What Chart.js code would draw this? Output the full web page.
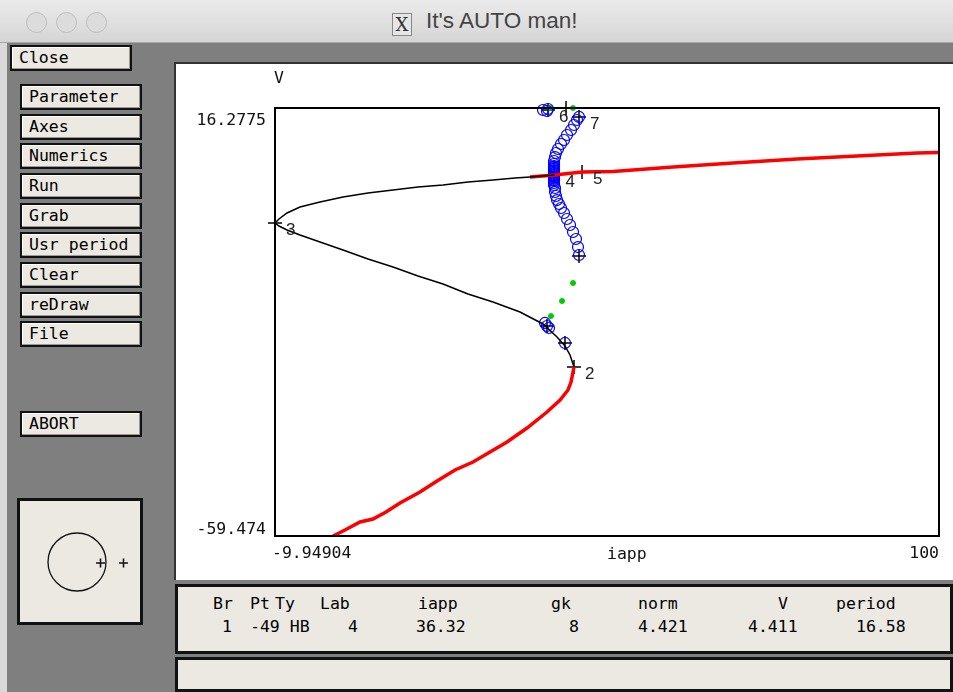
<!DOCTYPE html>
<html>
<head>
<meta charset="utf-8">
<script src="https://cdn.jsdelivr.net/npm/chart.js@4.4.1/dist/chart.umd.min.js"></script>
<style>
  html, body { margin:0; padding:0; }
  body { width:953px; height:692px; position:relative; overflow:hidden; background:#7f7f7f; font-family:"DejaVu Sans Mono", monospace; }
  .titlebar { position:absolute; left:0; top:0; width:953px; height:42px; background:linear-gradient(#ebebeb,#d5d5d5); border-bottom:1px solid #a8a8a8; }
  .light { position:absolute; top:12px; width:19px; height:19px; border-radius:50%; background:#dcdcdc; border:1px solid #bdbdbd; }
  .ttl { position:absolute; top:8px; left:392px; font-family:"Liberation Sans", Arial, sans-serif; font-size:22.5px; color:#444; }
  .xicon { display:inline-block; width:18px; height:21px; border:1px solid #888; background:#e6e6e6; text-align:center; font-size:18px; line-height:21px; margin-right:14px; vertical-align:-3px; font-family:"DejaVu Serif", serif; color:#333; }
  .edge { position:absolute; left:0; top:43px; width:7px; height:649px; background:#d9d9d9; }
  .btn { position:absolute; height:22px; background:#ece9e3; border:2px solid #111; box-shadow: inset -1px -1px 0 #9a9a9a, inset 1px 1px 0 #fff; font-size:16.5px; line-height:22px; padding-left:7px; box-sizing:content-box; color:#000; }
  .panel { position:absolute; background:#ece9e3; border:3px solid #111; box-sizing:border-box; }
  .plotpanel { position:absolute; left:174px; top:62px; width:779px; height:518px; background:#fff; border-left:2px solid #333; border-top:2px solid #333; box-sizing:border-box; }
  #wrap { position:absolute; left:175px; top:63px; width:778px; height:517px; }
  .info { position:absolute; font-size:16.5px; white-space:pre; color:#000; }
</style>
</head>
<body>
<div class="titlebar">
  <div class="light" style="left:26px"></div>
  <div class="light" style="left:56px"></div>
  <div class="light" style="left:86px"></div>
  <div class="ttl"><span class="xicon">X</span>It's AUTO man!</div>
</div>
<div class="edge"></div>

<div class="btn" style="left:10px;top:45px;width:111px;">Close</div>
<div class="btn" style="left:20px;top:84px;width:111px;">Parameter</div>
<div class="btn" style="left:20px;top:114px;width:111px;">Axes</div>
<div class="btn" style="left:20px;top:143px;width:111px;">Numerics</div>
<div class="btn" style="left:20px;top:173px;width:111px;">Run</div>
<div class="btn" style="left:20px;top:203px;width:111px;">Grab</div>
<div class="btn" style="left:20px;top:232px;width:111px;">Usr period</div>
<div class="btn" style="left:20px;top:262px;width:111px;">Clear</div>
<div class="btn" style="left:20px;top:292px;width:111px;">reDraw</div>
<div class="btn" style="left:20px;top:321px;width:111px;">File</div>
<div class="btn" style="left:20px;top:411px;width:111px;">ABORT</div>

<div class="panel" style="left:17px;top:498px;width:126px;height:127px;">
  <svg width="120" height="121" style="position:absolute;left:0;top:0">
    <circle cx="57" cy="61" r="29" fill="none" stroke="#111" stroke-width="1.3"/>
    <path d="M76 62 h9 M80.5 57.5 v9 M99 62 h9 M103.5 57.5 v9" stroke="#111" stroke-width="1.6"/>
  </svg>
</div>

<div class="plotpanel"></div>
<div id="wrap"><canvas id="c" width="778" height="517"></canvas></div>

<div class="panel" style="left:175px;top:584px;width:778px;height:70px;"></div>
<div class="info" style="left:213px;top:594px;">Br</div>
<div class="info" style="left:250px;top:594px;">Pt</div>
<div class="info" style="left:275px;top:594px;">Ty</div>
<div class="info" style="left:320px;top:594px;">Lab</div>
<div class="info" style="left:418px;top:594px;">iapp</div>
<div class="info" style="left:551px;top:594px;">gk</div>
<div class="info" style="left:638px;top:594px;">norm</div>
<div class="info" style="left:778px;top:594px;">V</div>
<div class="info" style="left:836px;top:594px;">period</div>
<div class="info" style="left:222px;top:617px;">1</div>
<div class="info" style="left:250px;top:617px;">-49 HB</div>
<div class="info" style="left:348px;top:617px;">4</div>
<div class="info" style="left:416px;top:617px;">36.32</div>
<div class="info" style="left:569px;top:617px;">8</div>
<div class="info" style="left:638px;top:617px;">4.421</div>
<div class="info" style="left:748px;top:617px;">4.411</div>
<div class="info" style="left:856px;top:617px;">16.58</div>

<div class="panel" style="left:175px;top:657px;width:778px;height:35px;"></div>

<script>
// ---- axis ranges / tick labels ----
const xTickValues = [-9.94904, 100];
const xTickLabels = ['-9.94904', '100'];
const yTickValues = [-59.474, 16.2775];
const yTickLabels = ['-59.474', '16.2775'];
const xAxisTitle = 'iapp';
const yAxisTitle = 'V';

// ---- stable steady states (lower branch, red) ----
const stableLowIapp = [-0.345, 1.642, 4.126, 6.279, 8.432, 10.75, 14.06, 16.88, 19.86, 22.84, 25.65, 28.47, 31.78, 35.09, 37.25, 38.57, 39.07, 39.56];
const stableLowV    = [-59.47, -58.41, -56.99, -56.47, -55.23, -53.63, -51.69, -49.74, -47.79, -46.38, -44.61, -42.84, -40.36, -37.53, -35.40, -33.63, -32.22, -29.56];

// ---- unstable steady states (black) ----
const unstableIapp = [39.56, 38.90, 38.07, 36.75, 34.43, 30.62, 26.15, 22.01, 17.87, 13.73, 9.59, 5.45, 1.31, -2.50, -5.81, -7.96, -9.29, -9.949, -9.29, -7.96, -5.81, -2.50, 1.31, 5.45, 9.59, 13.73, 17.87, 22.01, 26.15, 29.79, 32.28, 36.32];
const unstableV    = [-29.56, -27.44, -25.84, -24.25, -21.95, -19.83, -18.06, -16.64, -14.87, -13.46, -11.86, -10.45, -8.85, -7.44, -6.20, -5.32, -4.61, -4.08, -3.37, -2.31, -1.24, -0.36, 0.525, 1.23, 1.76, 2.29, 2.65, 3.18, 3.53, 3.89, 4.06, 4.411];

// ---- stable steady states (upper branch, red) ----
const stableHighIapp = [32.28, 36.32, 40.89, 46.02, 55.96, 65.89, 76.49, 86.42, 96.36, 100];
const stableHighV    = [4.06, 4.411, 4.95, 5.05, 5.835, 6.54, 7.25, 7.78, 8.31, 8.40];

// ---- unstable periodic orbits (blue open circles): max and min of V ----
const upoMaxIapp = [36.25, 36.25, 36.25, 36.25, 36.25, 36.25, 36.25, 36.25, 36.25, 36.25, 36.25, 36.42, 36.58, 36.91, 37.41, 37.91, 38.40, 39.07, 39.56, 40.06, 40.39, 34.43, 35.09, 35.26];
const upoMaxV    = [4.60, 4.80, 4.95, 5.15, 5.30, 5.50, 5.66, 5.85, 6.01, 6.37, 6.90, 7.60, 8.31, 9.02, 9.91, 10.61, 11.50, 12.38, 13.27, 14.15, 14.69, 15.92, 15.75, 16.10];
const upoMinIapp = [36.25, 36.25, 36.25, 36.25, 36.25, 36.25, 36.25, 36.25, 36.25, 36.42, 36.42, 36.58, 36.75, 37.08, 37.41, 37.91, 38.40, 38.90, 39.40, 39.89, 40.22, 40.39, 34.76, 35.09, 35.42, 38.07];
const upoMinV    = [4.40, 4.20, 4.07, 3.90, 3.71, 3.50, 3.36, 3.00, 2.65, 2.12, 1.41, 0.70, -0.01, -0.71, -1.42, -2.31, -3.37, -4.43, -5.67, -6.91, -8.33, -9.74, -21.77, -22.31, -22.66, -25.31];

// ---- stable periodic orbits (green dots): max and min of V ----
const spoIapp = [35.59, 39.40, 39.40, 37.58, 35.75];
const spoV    = [16.28, 16.28, -14.70, -17.88, -20.54];

// ---- labelled special points ----
const specIapp  = [39.56, -9.949, 36.32, 40.89, 40.39, 35.26, 35.09, 38.24, 38.07, 40.39];
const specV     = [-29.56, -4.08, 4.411, 4.95, 14.69, 15.92, -22.31, 16.28, -25.31, -9.92];
const specLabel = ['2', '3', '4', '5', '7', '6', '', '', '', ''];

const pts = (xs, ys) => xs.map((x, i) => ({ x: x, y: ys[i] }));

const frame = {
  id: 'autoFrame',
  afterDraw(chart) {
    const { ctx, chartArea: a, scales } = chart;
    const xs = scales.x, ys = scales.y;
    ctx.save();
    ctx.strokeStyle = '#000';
    ctx.lineWidth = 2;
    ctx.strokeRect(a.left, a.top, a.right - a.left, a.bottom - a.top);
    ctx.fillStyle = '#111';
    ctx.font = '16.5px "DejaVu Sans Mono", monospace';
    ctx.textAlign = 'right';
    ctx.textBaseline = 'middle';
    yTickValues.forEach((v, i) => {
      const p = ys.getPixelForValue(v);
      const dy = (v === ys.max) ? 13 : -6;
      ctx.fillText(yTickLabels[i], a.left - 9, p + dy);
    });
    xTickValues.forEach((v, i) => {
      const p = xs.getPixelForValue(v);
      ctx.textAlign = (v === xs.min) ? 'left' : 'right';
      ctx.fillText(xTickLabels[i], p + ((v === xs.min) ? -3 : 0), a.bottom + 18);
    });
    ctx.textAlign = 'left';
    ctx.fillText(xAxisTitle, (a.left + a.right) / 2, a.bottom + 19);
    ctx.fillText(yAxisTitle, a.left - 1, a.top - 29);
    ctx.font = '17px "Liberation Sans", Arial, sans-serif';
    ctx.fillStyle = '#222';
    specLabel.forEach((t, i) => {
      if (!t) return;
      ctx.fillText(t, xs.getPixelForValue(specIapp[i]) + 11, ys.getPixelForValue(specV[i]) + 7);
    });
    ctx.restore();
  }
};

new Chart(document.getElementById('c'), {
  type: 'scatter',
  data: {
    datasets: [
      { data: pts(stableLowIapp, stableLowV), showLine: true, borderColor: '#ff0000', borderWidth: 3.5, pointRadius: 0, tension: 0 },
      { data: pts(unstableIapp, unstableV), showLine: true, borderColor: '#000', borderWidth: 1.5, pointRadius: 0, tension: 0 },
      { data: pts(stableHighIapp, stableHighV), showLine: true, borderColor: '#ff0000', borderWidth: 3.5, pointRadius: 0, tension: 0, clip: 2 },
      { data: pts(upoMaxIapp, upoMaxV), showLine: false, pointRadius: 5.5, borderColor: '#0000ff', borderWidth: 1.2, backgroundColor: 'rgba(0,0,0,0)', clip: false },
      { data: pts(upoMinIapp, upoMinV), showLine: false, pointRadius: 5.5, borderColor: '#0000ff', borderWidth: 1.2, backgroundColor: 'rgba(0,0,0,0)', clip: false },
      { data: pts(spoIapp, spoV), showLine: false, pointRadius: 2.5, borderColor: '#00cc00', backgroundColor: '#00cc00', borderWidth: 1, clip: false },
      { data: pts(specIapp, specV), showLine: false, pointStyle: 'cross', pointRadius: 7, borderColor: '#000', borderWidth: 1.5, clip: false }
    ]
  },
  options: {
    responsive: false,
    animation: false,
    devicePixelRatio: 1,
    layout: { padding: { left: 100, top: 45, right: 14, bottom: 44 } },
    plugins: { legend: { display: false }, tooltip: { enabled: false } },
    scales: {
      x: { type: 'linear', display: false, min: -9.94904, max: 100 },
      y: { type: 'linear', display: false, min: -59.474, max: 16.2775 }
    }
  },
  plugins: [frame]
});
</script>
</body>
</html>
